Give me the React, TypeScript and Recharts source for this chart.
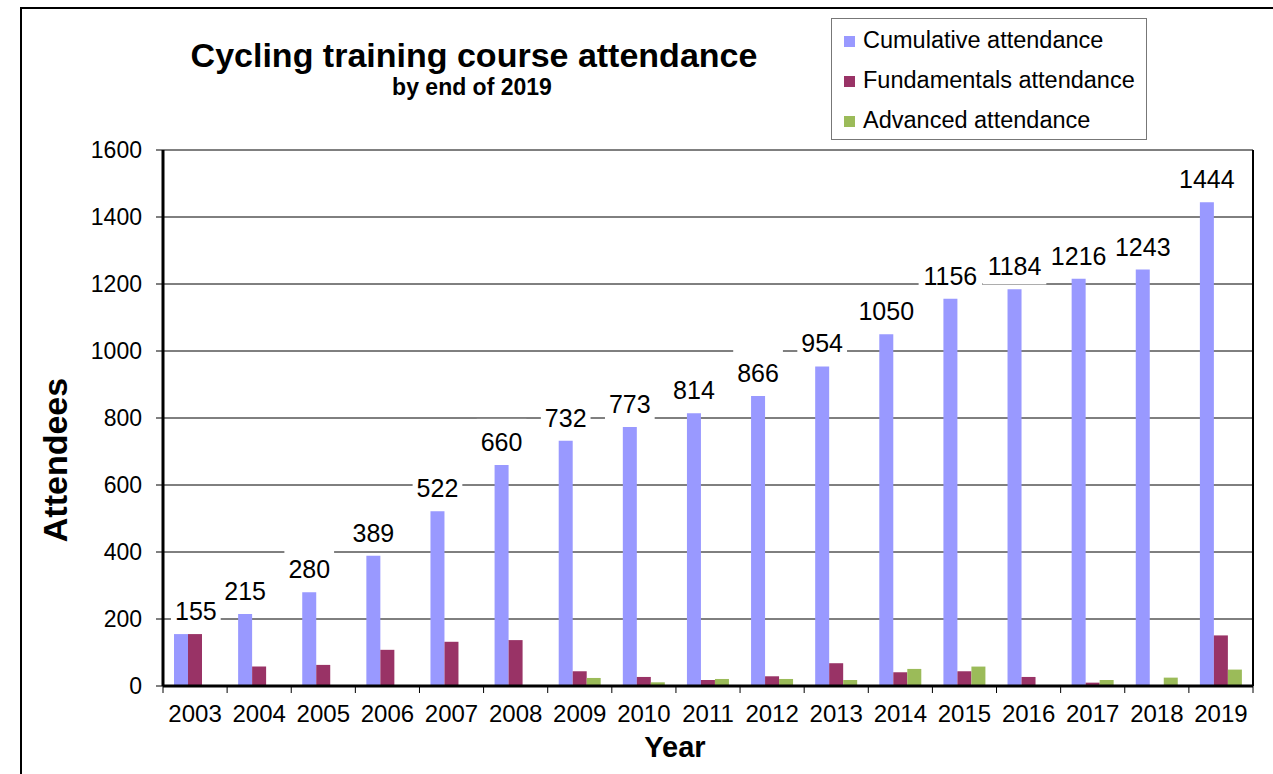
import {
  BarChart,
  Bar,
  XAxis,
  YAxis,
  CartesianGrid,
  Legend,
  LabelList,
} from "recharts";

const years = [
  "2003", "2004", "2005", "2006", "2007", "2008", "2009", "2010", "2011",
  "2012", "2013", "2014", "2015", "2016", "2017", "2018", "2019",
];
const cumulative = [155, 215, 280, 389, 522, 660, 732, 773, 814, 866, 954, 1050, 1156, 1184, 1216, 1243, 1444];
const fundamentals = [155, 58, 63, 108, 132, 137, 44, 27, 18, 29, 68, 41, 44, 27, 10, 0, 151];
const advanced = [0, 0, 0, 0, 0, 0, 24, 11, 21, 21, 18, 51, 58, 0, 18, 25, 49];
const yTicks = [0, 200, 400, 600, 800, 1000, 1200, 1400, 1600];

const series = [
  { key: "cumulative", name: "Cumulative attendance", color: "#9999ff" },
  { key: "fundamentals", name: "Fundamentals attendance", color: "#993366" },
  { key: "advanced", name: "Advanced attendance", color: "#9bbb59" },
];

const FONT = "'Liberation Sans', Arial, sans-serif";
const PLOT_LEFT = 163;

const data = years.map((year, i) => ({
  year,
  cumulative: cumulative[i],
  fundamentals: fundamentals[i],
  advanced: advanced[i],
}));

// value label sitting on a white box, like the Excel original
const ValueLabel = (props: any) => {
  const { x, y, width, value } = props;
  const w = String(value).length * 13.9;
  // keep the first label clear of the y axis
  const cx = Math.max(x + width / 2, PLOT_LEFT + 12 + w / 2);
  const base = y - 14;
  return (
    <g>
      <rect x={cx - w / 2 - 4} y={base - 32} width={w + 8} height={41} fill="#fff" />
      <text x={cx} y={base} textAnchor="middle" fontSize={25} fontFamily={FONT} fill="#000">
        {value}
      </text>
    </g>
  );
};

// year label plus tick marks on the category boundaries
const YearTick = (props: any) => {
  const { x, y, payload, index, visibleTicksCount } = props;
  const half = payload.offset || 1090 / 34;
  const last = index === visibleTicksCount - 1;
  return (
    <g>
      <line x1={x - half} y1={y} x2={x - half} y2={y + 7} stroke="#000" />
      {last && <line x1={x + half} y1={y} x2={x + half} y2={y + 7} stroke="#000" />}
      <text x={x} y={y + 36} textAnchor="middle" fontSize={24} fontFamily={FONT} fill="#000">
        {payload.value}
      </text>
    </g>
  );
};

const YearTitle = (props: any) => {
  const { viewBox } = props;
  return (
    <text
      x={viewBox.x + viewBox.width / 2 - 33}
      y={viewBox.y + 71}
      textAnchor="middle"
      fontSize={29}
      fontWeight="bold"
      fontFamily={FONT}
      fill="#000"
    >
      Year
    </text>
  );
};

const AttendeesTitle = (props: any) => {
  const { viewBox } = props;
  const cx = viewBox.x + 55;
  const cy = viewBox.y + viewBox.height / 2 + 42;
  return (
    <text
      x={cx}
      y={cy}
      transform={`rotate(-90, ${cx}, ${cy})`}
      textAnchor="middle"
      dominantBaseline="central"
      fontSize={34}
      fontWeight="bold"
      fontFamily={FONT}
      fill="#000"
    >
      Attendees
    </text>
  );
};

const LegendBox = () => (
  <div style={{ fontFamily: FONT, fontSize: 23.5, color: "#000", paddingTop: 1 }}>
    {series.map((s) => (
      <div key={s.key} style={{ display: "flex", alignItems: "center", height: 40 }}>
        <span
          style={{
            display: "inline-block",
            width: 11,
            height: 11,
            background: s.color,
            marginLeft: 12,
            marginRight: 8,
            marginTop: 3,
          }}
        />
        <span>{s.name}</span>
      </div>
    ))}
  </div>
);

export default function App() {
  return (
    <div style={{ position: "absolute", left: 0, top: 0, width: 1273, height: 774, overflow: "hidden", background: "#fff" }}>
      <div
        style={{
          position: "absolute",
          left: 20,
          top: 7,
          width: 1400,
          height: 900,
          border: "2px solid #000",
        }}
      />
      <div
        style={{
          position: "absolute",
          left: 174,
          width: 600,
          top: 36,
          textAlign: "center",
          fontFamily: FONT,
          fontWeight: "bold",
          color: "#000",
        }}
      >
        <div style={{ fontSize: 34, lineHeight: "38px" }}>Cycling training course attendance</div>
        <div style={{ fontSize: 23, lineHeight: "26px", marginLeft: -4 }}>by end of 2019</div>
      </div>
      <div style={{ position: "absolute", left: 0, top: 0 }}>
        <BarChart
          width={1273}
          height={774}
          data={data}
          margin={{ top: 150, right: 0, left: 0, bottom: 0 }}
          barGap={0}
          barSize={14}
        >
          <CartesianGrid vertical={false} stroke="#000" strokeWidth={1} />
          <XAxis
            dataKey="year"
            height={88}
            axisLine={{ stroke: "#000", strokeWidth: 3 }}
            tickLine={false}
            tickSize={0}
            tickMargin={0}
            tick={<YearTick />}
            interval={0}
            label={<YearTitle />}
          />
          <XAxis
            xAxisId="top"
            orientation="top"
            dataKey="year"
            height={0}
            tick={false}
            tickLine={false}
            axisLine={{ stroke: "#000", strokeWidth: 2 }}
          />
          <YAxis
            width={163}
            domain={[0, 1600]}
            ticks={yTicks}
            interval={0}
            axisLine={{ stroke: "#000", strokeWidth: 3 }}
            tickLine={{ stroke: "#000" }}
            tickSize={7}
            tickMargin={14}
            tick={{ fontSize: 23, fontFamily: FONT, fill: "#000" }}
            label={<AttendeesTitle />}
          />
          <YAxis
            yAxisId="right"
            orientation="right"
            width={20}
            domain={[0, 1600]}
            tick={false}
            tickLine={false}
            axisLine={{ stroke: "#000", strokeWidth: 2 }}
          />
          <Legend
            layout="horizontal"
            verticalAlign="middle"
            align="center"
            content={<LegendBox />}
            wrapperStyle={{
              left: 831,
              top: 18,
              width: 316,
              height: 122,
              border: "1px solid #777",
              background: "#fff",
              boxSizing: "border-box",
            }}
          />
          {series.map((s) => (
            <Bar
              key={s.key}
              dataKey={s.key}
              name={s.name}
              fill={s.color}
              isAnimationActive={false}
            >
              {s.key === "cumulative" && (
                <LabelList dataKey="cumulative" content={<ValueLabel />} />
              )}
            </Bar>
          ))}
        </BarChart>
      </div>
    </div>
  );
}
